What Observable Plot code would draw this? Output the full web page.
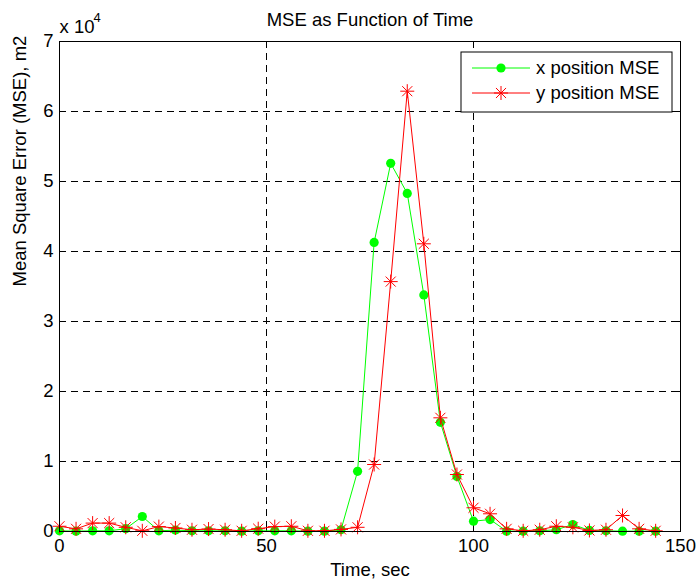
<!DOCTYPE html>
<html>
<head>
<meta charset="utf-8">
<script src="https://cdn.jsdelivr.net/npm/d3@7"></script>
<script src="https://cdn.jsdelivr.net/npm/@observablehq/plot@0.6"></script>
<style>
  html, body { margin: 0; padding: 0; background: #fff; }
  #chart { width: 700px; height: 582px; }
</style>
</head>
<body>
<div id="chart"></div>
<script>
// Sample times (sec)
const time = [0, 4, 8, 12, 16, 20, 24, 28, 32, 36, 40, 44, 48, 52, 56, 60, 64, 68,
  72, 76, 80, 84, 88, 92, 96, 100, 104, 108, 112, 116, 120, 124, 128, 132, 136, 140, 144];

// Mean square error of the x position estimate (m2)
const xPositionMSE = [100, 50, 100, 100, 400, 2140, 100, 200, 100, 100, 100, 50, 100, 100, 100, 50, 50, 250,
  8600, 41300, 52600, 48300, 33800, 15600, 7860, 1470, 1710, 50, 50, 100, 250, 1000, 150, 100, 50, 50, 50];

// Mean square error of the y position estimate (m2)
const yPositionMSE = [750, 380, 1200, 1200, 600, 100, 700, 500, 250, 350, 250, 100, 400, 700, 750, 100, 100, 300,
  600, 9570, 35700, 62900, 41100, 16240, 8140, 3390, 2530, 380, 100, 250, 750, 600, 150, 250, 2290, 380, 100];

const xTicks = [0, 50, 100, 150];
const yTicks = [0, 10000, 20000, 30000, 40000, 50000, 60000, 70000];
const seriesNames = ["x position MSE", "y position MSE"];

const green = "#00ff00";
const red = "#ff0000";
const font = "'Liberation Sans', Arial, Helvetica, sans-serif";
const fs = 18.5;

const W = 700, H = 582;
const mL = 59, mR = 20, mT = 41, mB = 51;
const innerW = W - mL - mR, innerH = H - mT - mB;
const tickLen = 5;

const xRows = time.map((t, i) => ({t, v: xPositionMSE[i]}));
const yRows = time.map((t, i) => ({t, v: yPositionMSE[i]}));

// "*" marker: a plus sign overlaid with a diagonal cross
const asterisk = {
  draw(ctx, size) {
    const r = Math.sqrt(size / Math.PI);
    const d = r * 0.72;
    ctx.moveTo(-r, 0); ctx.lineTo(r, 0);
    ctx.moveTo(0, -r); ctx.lineTo(0, r);
    ctx.moveTo(-d, -d); ctx.lineTo(d, d);
    ctx.moveTo(-d, d); ctx.lineTo(d, -d);
  }
};

const chart = Plot.plot({
  width: W,
  height: H,
  marginLeft: mL,
  marginRight: mR,
  marginTop: mT,
  marginBottom: mB,
  style: {fontFamily: font, fontSize: fs + "px", color: "black", background: "white"},
  x: {domain: [0, 150]},
  y: {domain: [0, 70000]},
  marks: [
    Plot.gridX({ticks: xTicks.slice(1, -1), stroke: "#000", strokeOpacity: 1, strokeDasharray: "7,5"}),
    Plot.gridY({ticks: yTicks.slice(1, -1), stroke: "#000", strokeOpacity: 1, strokeDasharray: "7,5"}),
    // inward tick marks on all four sides
    Plot.tickX(xTicks, {x: d => d, insetTop: innerH - tickLen, stroke: "black"}),
    Plot.tickX(xTicks, {x: d => d, insetBottom: innerH - tickLen, stroke: "black"}),
    Plot.tickY(yTicks, {y: d => d, insetRight: innerW - tickLen, stroke: "black"}),
    Plot.tickY(yTicks, {y: d => d, insetLeft: innerW - tickLen, stroke: "black"}),
    Plot.axisX({ticks: xTicks, tickSize: 0, tickPadding: 7, label: null, fontSize: fs}),
    Plot.axisY({ticks: yTicks, tickSize: 0, tickPadding: 6, label: null, fontSize: fs, tickFormat: d => d / 1e4}),
    // x position series
    Plot.line(xRows, {x: "t", y: "v", stroke: green, strokeWidth: 1}),
    Plot.dot(xRows, {x: "t", y: "v", r: 4.6, fill: green, stroke: "none"}),
    // y position series
    Plot.line(yRows, {x: "t", y: "v", stroke: red, strokeWidth: 1}),
    Plot.dot(yRows, {x: "t", y: "v", r: 7, symbol: asterisk, fill: "none", stroke: red, strokeWidth: 1}),
    Plot.frame({stroke: "black", strokeWidth: 1}),
    // titles
    Plot.text(["MSE as Function of Time"], {frameAnchor: "top", lineAnchor: "middle", dy: -21, fontSize: fs}),
    Plot.text(["Time, sec"], {frameAnchor: "bottom", lineAnchor: "middle", dy: 39, fontSize: fs}),
    Plot.text(["Mean Square Error (MSE), m2"], {frameAnchor: "left", lineAnchor: "middle", dx: -39, rotate: -90, fontSize: fs}),
    Plot.text(["x 10"], {frameAnchor: "top-left", lineAnchor: "middle", textAnchor: "start", dx: 0, dy: -14, fontSize: fs}),
    Plot.text(["4"], {frameAnchor: "top-left", lineAnchor: "middle", textAnchor: "start", dx: 34, dy: -24, fontSize: 13})
  ]
});

document.getElementById("chart").appendChild(chart);

// Legend box in the upper right of the axes
const svg = d3.select(chart);
const lg = svg.append("g").attr("font-family", font).attr("font-size", fs).attr("text-anchor", "start");
const boxX = 461, boxY = 52, boxW = 211, boxH = 60;
lg.append("rect").attr("x", boxX).attr("y", boxY).attr("width", boxW).attr("height", boxH)
  .attr("fill", "white").attr("stroke", "black").attr("stroke-width", 1);
const rows = [
  {name: seriesNames[0], color: green, marker: "dot"},
  {name: seriesNames[1], color: red, marker: "star"}
];
rows.forEach((row, i) => {
  const cy = boxY + 16 + i * 25;
  lg.append("line").attr("x1", boxX + 11).attr("x2", boxX + 69).attr("y1", cy).attr("y2", cy)
    .attr("stroke", row.color).attr("stroke-width", 1);
  const mx = boxX + 40;
  if (row.marker === "dot") {
    lg.append("circle").attr("cx", mx).attr("cy", cy).attr("r", 4.6).attr("fill", row.color);
  } else {
    const p = d3.path();
    asterisk.draw(p, 49 * Math.PI);
    lg.append("path").attr("d", p.toString()).attr("transform", `translate(${mx},${cy})`)
      .attr("fill", "none").attr("stroke", row.color).attr("stroke-width", 1);
  }
  lg.append("text").attr("x", boxX + 75).attr("y", cy).attr("dy", "0.35em").text(row.name);
});
</script>
</body>
</html>
